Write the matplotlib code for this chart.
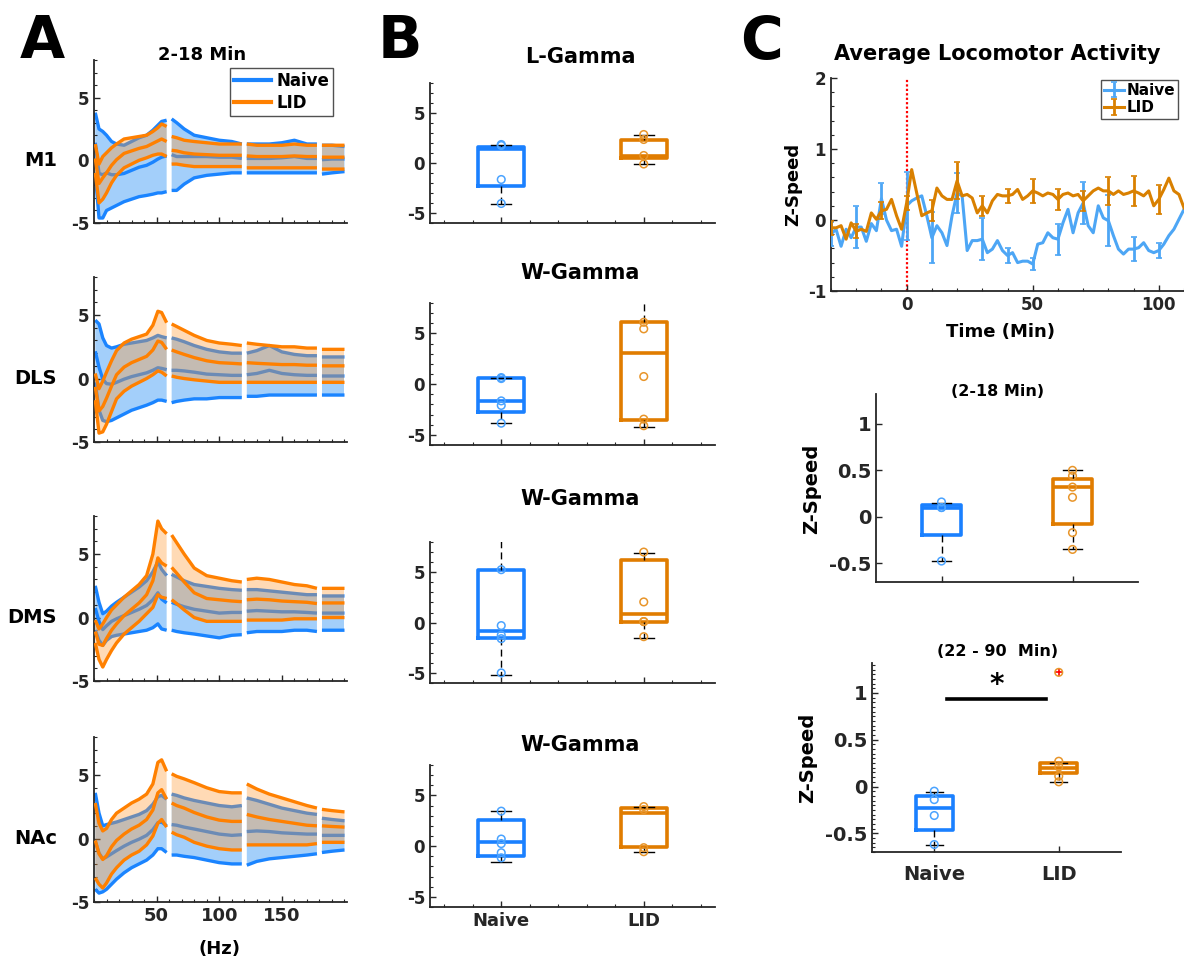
import numpy as np
import matplotlib
matplotlib.use("Agg")
import matplotlib.pyplot as plt
from matplotlib.ticker import MultipleLocator, FixedLocator, NullFormatter, FuncFormatter
from matplotlib.container import ErrorbarContainer

plt.rcParams['font.family'] = ['DejaVu Sans']
plt.rcParams['font.weight'] = 'bold'
plt.rcParams['axes.labelweight'] = 'bold'
plt.rcParams['axes.unicode_minus'] = False

nan = np.nan

# ---------------- Panel A: spectra (z-scored power vs frequency) ----------------
freq_hz = [1, 4, 7, 10, 14, 18, 24, 30, 36, 42, 47, 51, 54, 58, 60, 62, 66, 72, 80, 90,
           100, 110, 118, 120, 122, 130, 140, 150, 160, 170, 178, 180, 182, 190, 200]

m1_naive_mean = [1.4, -1.05, -1.15, -1.0, -1.15, -1.15, -1.05, -0.8, -0.55, -0.4, -0.15, 0.1, 0.25, 0.35, nan,
                 0.45, 0.3, 0.3, 0.3, 0.3, 0.25, 0.25, 0.15, nan, 0.15, 0.15, 0.15, 0.2, 0.3, 0.15, 0.15, nan,
                 0.05, 0.1, 0.1]
m1_naive_sem = [2.4, 3.55, 3.45, 3.0, 2.65, 2.45, 2.25, 2.3, 2.35, 2.4, 2.55, 2.7, 2.85, 2.85, nan,
                2.85, 2.7, 2.2, 1.7, 1.5, 1.35, 1.25, 1.15, nan, 1.15, 1.15, 1.15, 1.2, 1.3, 1.15, 1.15, nan,
                1.15, 1.1, 1.0]
m1_lid_mean = [0.15, -1.85, -1.4, -1.0, -0.4, 0.05, 0.55, 0.75, 0.95, 1.1, 1.35, 1.55, 1.7, 1.5, nan,
               0.8, 0.75, 0.6, 0.5, 0.45, 0.4, 0.4, 0.4, nan, 0.35, 0.3, 0.3, 0.3, 0.35, 0.3, 0.3, nan,
               0.25, 0.25, 0.25]
m1_lid_sem = [1.15, 1.55, 1.7, 1.6, 1.4, 1.25, 1.15, 1.05, 0.95, 0.9, 0.95, 1.05, 1.2, 1.2, nan,
              1.1, 1.05, 1.0, 1.0, 0.95, 0.9, 0.9, 0.9, nan, 0.95, 0.9, 0.9, 0.9, 0.95, 0.9, 0.9, nan,
              0.95, 0.95, 0.95]

dls_naive_mean = [2.15, 0.9, -0.05, -0.4, -0.45, -0.3, -0.05, 0.15, 0.3, 0.45, 0.65, 0.85, 0.8, 0.7, nan,
                  0.65, 0.65, 0.6, 0.5, 0.35, 0.3, 0.25, 0.25, nan, 0.3, 0.4, 0.65, 0.4, 0.3, 0.25, 0.25, nan,
                  0.2, 0.2, 0.2]
dls_naive_sem = [2.45, 3.4, 3.25, 3.0, 2.85, 2.8, 2.75, 2.65, 2.6, 2.55, 2.55, 2.55, 2.5, 2.5, nan,
                 2.55, 2.45, 2.3, 2.1, 1.95, 1.8, 1.75, 1.75, nan, 1.7, 1.8, 1.95, 1.7, 1.6, 1.55, 1.55, nan,
                 1.5, 1.5, 1.5]
dls_lid_mean = [-0.65, -2.55, -2.2, -1.55, -0.6, 0.3, 0.9, 1.25, 1.5, 1.75, 2.25, 2.95, 2.85, 2.3, nan,
                2.25, 2.1, 1.9, 1.65, 1.4, 1.25, 1.2, 1.15, nan, 1.25, 1.2, 1.15, 1.1, 1.1, 1.05, 1.05, nan,
                1.0, 1.0, 1.0]
dls_lid_sem = [1.05, 1.75, 2.0, 2.05, 2.0, 1.9, 1.9, 1.85, 1.8, 1.75, 1.95, 2.35, 2.35, 2.1, nan,
               2.05, 2.0, 1.9, 1.75, 1.6, 1.55, 1.5, 1.45, nan, 1.55, 1.5, 1.45, 1.4, 1.4, 1.35, 1.35, nan,
               1.3, 1.3, 1.3]

dms_naive_mean = [0.75, -0.3, -0.95, -0.65, -0.3, -0.1, 0.15, 0.4, 0.65, 0.95, 1.4, 1.95, 1.45, 1.15, nan,
                  1.2, 1.05, 0.85, 0.65, 0.5, 0.35, 0.4, 0.4, nan, 0.5, 0.55, 0.5, 0.45, 0.45, 0.4, 0.35, nan,
                  0.35, 0.35, 0.35]
dms_naive_sem = [1.75, 1.5, 1.25, 1.15, 1.2, 1.3, 1.45, 1.6, 1.75, 1.95, 2.2, 2.45, 2.35, 2.15, nan,
                 2.2, 2.15, 2.05, 1.95, 1.95, 1.95, 1.8, 1.75, nan, 1.7, 1.65, 1.6, 1.55, 1.45, 1.4, 1.45, nan,
                 1.35, 1.35, 1.35]
dms_lid_mean = [-1.1, -2.1, -2.2, -1.65, -1.0, -0.5, 0.15, 0.65, 1.15, 1.8, 2.9, 4.7, 4.3, 4.05, nan,
                3.95, 3.5, 2.8, 1.95, 1.5, 1.4, 1.3, 1.25, nan, 1.4, 1.45, 1.4, 1.3, 1.25, 1.2, 1.1, nan,
                1.15, 1.15, 1.15]
dms_lid_sem = [0.9, 1.2, 1.7, 1.65, 1.6, 1.5, 1.45, 1.45, 1.45, 1.5, 2.1, 2.9, 2.7, 2.55, nan,
               2.55, 2.4, 2.2, 1.95, 1.8, 1.7, 1.6, 1.55, nan, 1.6, 1.65, 1.6, 1.5, 1.35, 1.3, 1.2, nan,
               1.15, 1.15, 1.15]

nac_naive_mean = [-0.2, -1.15, -1.6, -1.45, -1.2, -0.95, -0.6, -0.3, -0.05, 0.25, 0.7, 1.25, 1.3, 1.0, nan,
                  1.1, 1.05, 0.9, 0.75, 0.55, 0.35, 0.25, 0.3, nan, 0.55, 0.6, 0.55, 0.45, 0.4, 0.35, 0.35, nan,
                  0.25, 0.25, 0.25]
nac_naive_sem = [3.8, 3.15, 2.6, 2.55, 2.4, 2.25, 2.1, 2.0, 1.95, 1.95, 2.0, 2.05, 2.1, 2.1, nan,
                 2.4, 2.35, 2.3, 2.25, 2.25, 2.25, 2.25, 2.3, nan, 2.65, 2.4, 2.15, 1.95, 1.8, 1.65, 1.55, nan,
                 1.35, 1.25, 1.15]
nac_lid_mean = [-0.15, -1.2, -1.65, -1.35, -0.65, -0.15, 0.35, 0.75, 1.05, 1.5, 2.25, 3.6, 3.85, 3.1, nan,
                2.8, 2.6, 2.4, 2.05, 1.7, 1.45, 1.35, 1.35, nan, 1.9, 1.7, 1.5, 1.35, 1.2, 1.05, 1.0, nan,
                1.0, 0.95, 0.9]
nac_lid_sem = [2.95, 2.4, 2.25, 2.15, 2.15, 2.15, 2.05, 2.05, 2.05, 2.0, 2.05, 2.4, 2.35, 2.2, nan,
               2.3, 2.3, 2.3, 2.35, 2.3, 2.25, 2.25, 2.25, nan, 2.4, 2.2, 2.0, 1.85, 1.7, 1.55, 1.4, nan,
               1.3, 1.25, 1.2]

region_names = ['M1', 'DLS', 'DMS', 'NAc']
group_names = ['Naive', 'LID']

# ---------------- Panel B: gamma power box plots ----------------
# box stats are [whisker low, q1, median, q3, whisker high]
band_titles = ['L-Gamma', 'W-Gamma', 'W-Gamma', 'W-Gamma']
band_naive_box = [[-4.05, -2.25, 1.45, 1.6, 1.85],
                  [-3.85, -2.7, -1.7, 0.6, 0.65],
                  [-5.2, -1.55, -0.8, 5.2, 9.0],
                  [-1.6, -1.0, 0.4, 2.6, 3.45]]
band_lid_box = [[-0.1, 0.5, 0.7, 2.35, 2.85],
                [-4.2, -3.5, 3.1, 6.1, 9.0],
                [-1.55, 0.1, 0.85, 6.2, 6.9],
                [-0.55, -0.05, 3.3, 3.8, 3.9]]
band_naive_pts = [[1.85, 1.75, -1.65, -4.05],
                  [0.65, 0.55, -1.65, -2.1, -3.85],
                  [5.25, -0.3, -1.25, -1.6, -5.0],
                  [3.45, 0.7, 0.25, -0.65, -1.15]]
band_lid_pts = [[2.85, 2.35, 0.75, -0.1],
                [6.1, 5.45, 0.75, -3.45, -4.1],
                [7.0, 2.05, 0.1, 0.1, -1.4],
                [3.9, 3.6, -0.15, -0.55]]

# ---------------- Panel C: locomotor activity ----------------
time_min = np.arange(-30, 111, 2)
speed_naive = [-0.2, -0.13, -0.37, -0.13, -0.25, -0.1, -0.1, -0.3, -0.05, -0.15, 0.3, 0.0, -0.15, -0.13, -0.37,
               0.2, 0.27, 0.31, 0.34, 0.06, -0.25, -0.08, -0.18, -0.36, 0.06, 0.38, 0.34, -0.43, -0.29, -0.29,
               -0.27, -0.46, -0.41, -0.29, -0.43, -0.5, -0.46, -0.6, -0.58, -0.58, -0.62, -0.34, -0.32, -0.18,
               -0.25, -0.27, -0.04, 0.15, -0.18, 0.1, 0.24, -0.08, -0.18, 0.2, 0.03, -0.01, -0.22, -0.41, -0.48,
               -0.41, -0.41, -0.39, -0.32, -0.43, -0.46, -0.43, -0.34, -0.22, -0.13, 0.01, 0.15]
speed_lid = [-0.11, -0.11, -0.08, -0.27, -0.04, -0.16, -0.13, -0.16, 0.1, 0.01, 0.13, 0.15, 0.29, 0.06, -0.13,
             0.24, 0.71, 0.38, 0.06, 0.1, 0.13, 0.45, 0.34, 0.29, 0.29, 0.55, 0.34, 0.36, 0.31, 0.1,
             0.2, 0.1, 0.27, 0.36, 0.34, 0.34, 0.36, 0.43, 0.29, 0.34, 0.41, 0.38, 0.34, 0.38,
             0.36, 0.29, 0.36, 0.38, 0.34, 0.36, 0.27, 0.34, 0.41, 0.45, 0.41, 0.41, 0.36, 0.41, 0.36,
             0.38, 0.41, 0.38, 0.34, 0.41, 0.2, 0.29, 0.43, 0.59, 0.41, 0.36, 0.17]
# SEM shown every 10 min, from -30 to 100 min
speed_naive_sem = [0.17, 0.3, 0.22, 0.48, 0.36, 0.28, 0.3, 0.1, 0.08, 0.22, 0.3, 0.36, 0.17, 0.1]
speed_lid_sem = [0.1, 0.1, 0.12, 0.1, 0.15, 0.26, 0.14, 0.1, 0.17, 0.15, 0.14, 0.2, 0.21, 0.2]

window_titles = ['(2-18 Min)', '(22 - 90  Min)']
win_naive_box = [[-0.475, -0.19, 0.1, 0.13, 0.15],
                 [-0.63, -0.47, -0.23, -0.1, -0.06]]
win_lid_box = [[-0.35, -0.08, 0.32, 0.41, 0.5],
               [0.05, 0.14, 0.2, 0.25, 0.25]]
win_naive_pts = [[0.16, 0.1, 0.1, -0.475],
                 [-0.05, -0.14, -0.31, -0.62]]
win_lid_pts = [[0.5, 0.44, 0.32, 0.21, -0.17, -0.35],
               [0.27, 0.21, 0.11, 0.05, 1.22]]
win_lid_outliers = [[], [1.22]]

# ---------------- styling ----------------
AX = '#262626'
NAIVE_LINE = '#1a84ff'
NAIVE_FILL = '#a3cffa'
LID_LINE = '#ff8000'
LID_FILL = '#ff9933'
BOX_NAIVE = '#1a80ff'
BOX_LID = '#e07c00'
PT_NAIVE = '#4aa3ff'
PT_LID = '#e8952a'
LOC_NAIVE = '#4da6f5'
LOC_LID = '#d98000'

W, H = 1184, 960
fig = plt.figure(figsize=(W / 100, H / 100), dpi=100)


def px_axes(l, t, r, b):
    return fig.add_axes([l / W, 1 - b / H, (r - l) / W, (b - t) / H])


def ftext(x, y, s, **kw):
    kw.setdefault('ha', 'center')
    kw.setdefault('va', 'center')
    kw.setdefault('color', 'black')
    kw.setdefault('fontweight', 'bold')
    return fig.text(x / W, 1 - y / H, s, **kw)


def style(ax, labelsize=12):
    for s in ('top', 'right'):
        ax.spines[s].set_visible(False)
    for s in ('left', 'bottom'):
        ax.spines[s].set_color(AX)
        ax.spines[s].set_linewidth(1.3)
    ax.tick_params(which='both', direction='in', colors=AX, labelsize=labelsize)
    ax.tick_params(which='major', length=4, width=1.0)
    ax.tick_params(which='minor', length=2.5, width=0.8)
    for lab in ax.get_xticklabels() + ax.get_yticklabels():
        lab.set_fontweight('bold')


# ---------------- Panel A ----------------
spectra = [(m1_naive_mean, m1_naive_sem, m1_lid_mean, m1_lid_sem),
           (dls_naive_mean, dls_naive_sem, dls_lid_mean, dls_lid_sem),
           (dms_naive_mean, dms_naive_sem, dms_lid_mean, dms_lid_sem),
           (nac_naive_mean, nac_naive_sem, nac_lid_mean, nac_lid_sem)]
a_rows = [(60, 223), (277, 442), (516, 681), (737, 902)]
f = np.array(freq_hz, dtype=float)
for i, ((nm, ns, lm, ls), (top, bot)) in enumerate(zip(spectra, a_rows)):
    ax = px_axes(94, top, 347, bot)
    nm, ns, lm, ls = (np.array(v, dtype=float) for v in (nm, ns, lm, ls))
    ax.fill_between(f, nm - ns, nm + ns, color=NAIVE_FILL, lw=0, zorder=1)
    for y in (nm - ns, nm + ns, nm):
        ax.plot(f, y, color=NAIVE_LINE, lw=2.4, zorder=2, solid_capstyle='butt')
    ax.fill_between(f, lm - ls, lm + ls, color=LID_FILL, alpha=0.36, lw=0, zorder=3)
    for y in (lm - ls, lm + ls, lm):
        ax.plot(f, y, color=LID_LINE, lw=2.4, zorder=4, solid_capstyle='butt')
    ax.set_xlim(0, 202)
    ax.set_ylim(-5, 8)
    ax.xaxis.set_major_locator(FixedLocator([50, 100, 150]))
    ax.xaxis.set_minor_locator(MultipleLocator(10))
    ax.yaxis.set_major_locator(FixedLocator([-5, 0, 5]))
    ax.yaxis.set_minor_locator(MultipleLocator(1))
    style(ax, labelsize=12)
    if i < 3:
        ax.xaxis.set_major_formatter(NullFormatter())
    else:
        ax.tick_params(axis='x', labelsize=13)
    ax.annotate(region_names[i], xy=(0, 0), xycoords=('axes fraction', 'data'),
                xytext=(-37, 0), textcoords='offset pixels', ha='right', va='center',
                fontsize=14, fontweight='bold', color='black')
    if i == 0:
        hn, = ax.plot([], [], color=NAIVE_LINE, lw=3, label=group_names[0])
        hl, = ax.plot([], [], color=LID_LINE, lw=3, label=group_names[1])
        leg = ax.legend(handles=[hn, hl], loc='upper right', bbox_to_anchor=(0.945, 0.95),
                        borderaxespad=0, frameon=True, fancybox=False, edgecolor=AX,
                        prop=dict(size=12, weight='bold'), handlelength=2.2, handletextpad=0.3,
                        borderpad=0.25, labelspacing=0.2)
        leg.get_frame().set_linewidth(1.0)

ftext(42, 42, 'A', fontsize=42)
ftext(202, 55, '2-18 Min', fontsize=13)
ftext(220, 949, '(Hz)', fontsize=13)


# ---------------- box helper ----------------
def draw_box(ax, pos, box, pts, box_color, pt_color, width, fliers=()):
    st = dict(whislo=box[0], q1=box[1], med=box[2], q3=box[3], whishi=box[4], fliers=list(fliers))
    ax.bxp([st], positions=[pos], widths=width, showfliers=len(fliers) > 0, capwidths=0.14,
           boxprops=dict(color=box_color, lw=2.6),
           medianprops=dict(color=box_color, lw=2.6),
           whiskerprops=dict(color='black', lw=1.0, ls=(0, (5, 3))),
           capprops=dict(color='black', lw=1.0),
           flierprops=dict(marker='+', markeredgecolor='red', markersize=6, markeredgewidth=1.2))
    ax.scatter(np.full(len(pts), pos), pts, s=30, facecolors='none', edgecolors=pt_color,
               linewidths=1.1, zorder=5)


# ---------------- Panel B ----------------
b_rows = [(83, 223), (303, 445), (542, 683), (765, 907)]
b_title_y = [57, 273, 499, 745]
for i, (top, bot) in enumerate(b_rows):
    ax = px_axes(430, top, 715, bot)
    draw_box(ax, 1, band_naive_box[i], band_naive_pts[i], BOX_NAIVE, PT_NAIVE, 0.32)
    draw_box(ax, 2, band_lid_box[i], band_lid_pts[i], BOX_LID, PT_LID, 0.32)
    ax.set_xlim(0.5, 2.5)
    ax.set_ylim(-6, 8)
    ax.xaxis.set_major_locator(FixedLocator([1, 2]))
    ax.xaxis.set_minor_locator(MultipleLocator(0.2))
    ax.yaxis.set_major_locator(FixedLocator([-5, 0, 5]))
    ax.yaxis.set_minor_locator(MultipleLocator(1))
    style(ax, labelsize=12)
    if i < 3:
        ax.set_xticklabels([])
    else:
        ax.set_xticklabels(group_names, fontsize=13, fontweight='bold')
    ftext(580, b_title_y[i], band_titles[i], fontsize=15)

ftext(400, 42, 'B', fontsize=42)

# ---------------- Panel C: time course ----------------
ax = px_axes(831, 78, 1184, 291)
ax.axvline(0, color='red', lw=1.6, ls=(0, (1, 1)), zorder=1)
handles = []
for series, sem, col, name in ((speed_naive, speed_naive_sem, LOC_NAIVE, group_names[0]),
                               (speed_lid, speed_lid_sem, LOC_LID, group_names[1])):
    y = np.array(series)
    line, = ax.plot(time_min, y, color=col, lw=2.2, zorder=3)
    eb = ax.errorbar(time_min[:70:5], y[:70:5], yerr=sem, fmt='none', ecolor=col,
                     elinewidth=2.0, capsize=2, capthick=1.2, zorder=3)
    handles.append(ErrorbarContainer((line, eb.lines[1], eb.lines[2]),
                                     has_xerr=False, has_yerr=True, label=name))
ax.set_xlim(-30, 110)
ax.set_ylim(-1, 2)
ax.xaxis.set_major_locator(FixedLocator([0, 50, 100]))
ax.xaxis.set_minor_locator(MultipleLocator(10))
ax.yaxis.set_major_locator(FixedLocator([-1, 0, 1, 2]))
ax.yaxis.set_minor_locator(MultipleLocator(0.2))
style(ax, labelsize=12)
leg = ax.legend(handles=handles, loc='upper right', bbox_to_anchor=(0.983, 0.99), borderaxespad=0,
                frameon=True, fancybox=False, edgecolor=AX, prop=dict(size=11, weight='bold'),
                handlelength=1.3, handletextpad=0.15, borderpad=0.2, labelspacing=0.15)
leg.get_frame().set_linewidth(1.0)
ftext(997, 54, 'Average Locomotor Activity', fontsize=15)
ftext(1001, 332, 'Time (Min)', fontsize=13)
ftext(793, 184, 'Z-Speed', fontsize=13, rotation=90)
ftext(762, 42, 'C', fontsize=42)

# ---------------- Panel C: window box plots ----------------
c_boxes = [((876, 394, 1138, 582), 391, 812, 489), ((872, 663, 1121, 852), 652, 808, 758)]
for i, ((l, t, r, b), ty, lx, ly) in enumerate(c_boxes):
    ax = px_axes(l, t, r, b)
    draw_box(ax, 1, win_naive_box[i], win_naive_pts[i], BOX_NAIVE, PT_NAIVE, 0.3)
    draw_box(ax, 2, win_lid_box[i], win_lid_pts[i], BOX_LID, PT_LID, 0.3,
             fliers=win_lid_outliers[i])
    ax.set_xlim(0.5, 2.5)
    ax.set_ylim(-0.7, 1.32)
    ax.xaxis.set_major_locator(FixedLocator([1, 2]))
    ax.yaxis.set_major_locator(FixedLocator([-0.5, 0, 0.5, 1]))
    ax.yaxis.set_major_formatter(FuncFormatter(lambda v, p: f'{v:g}'))
    if i == 1:
        ax.yaxis.set_minor_locator(MultipleLocator(0.05))
    style(ax, labelsize=14)
    if i == 0:
        ax.set_xticklabels([])
    else:
        ax.set_xticklabels(group_names, fontsize=14, fontweight='bold')
        ax.tick_params(axis='x', pad=9)
        # significance bar between groups
        ax.plot([1.1, 1.9], [0.93, 0.93], color='black', lw=2.6)
        ax.text(1.5, 0.93, '*', ha='center', va='bottom', fontsize=20, fontweight='bold')
    ftext(998, ty, window_titles[i], fontsize=11.5)
    ftext(lx, ly, 'Z-Speed', fontsize=14, rotation=90)

fig.savefig('out.png', dpi=100)
